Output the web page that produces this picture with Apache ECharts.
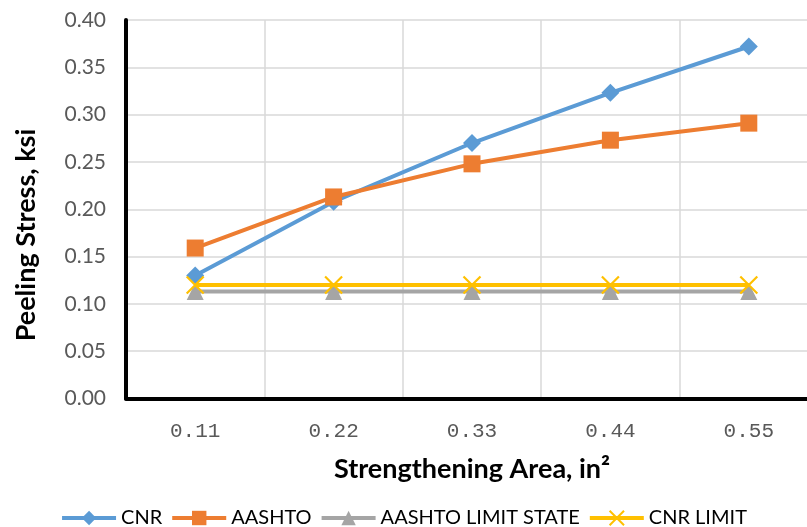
<!DOCTYPE html>
<html>
<head>
<meta charset="utf-8">
<script src="https://cdn.jsdelivr.net/npm/echarts@6/dist/echarts.min.js"></script>
<style>
  html, body { margin: 0; padding: 0; background: #fff; }
  #chart { width: 807px; height: 527px; }
</style>
</head>
<body>
<div id="chart"></div>
<script>
// Strengthening areas (in²) on the horizontal axis
const areas = ['0.11', '0.22', '0.33', '0.44', '0.55'];

// Peeling stress (ksi) for each method
const cnr = [0.130, 0.208, 0.270, 0.323, 0.372];
const aashto = [0.159, 0.213, 0.248, 0.273, 0.291];
const aashtoLimitState = [0.113, 0.113, 0.113, 0.113, 0.113];
const cnrLimit = [0.120, 0.120, 0.120, 0.120, 0.120];

const seriesNames = ['CNR', 'AASHTO', 'AASHTO LIMIT STATE', 'CNR LIMIT'];
const seriesColors = ['#5B9BD5', '#ED7D31', '#A5A5A5', '#FFC000'];

const crossSymbol = 'path://M0,0L20,20M20,0L0,20';

const chart = echarts.init(document.getElementById('chart'));

function lineSeries(name, data, color, symbol, size, extra) {
  return Object.assign({
    name: name,
    type: 'line',
    data: data,
    symbol: symbol,
    symbolSize: size,
    showAllSymbol: true,
    lineStyle: { color: color, width: 4 },
    itemStyle: { color: color, opacity: 1 },
    emphasis: { disabled: true },
    animation: false
  }, extra || {});
}

chart.setOption({
  backgroundColor: '#ffffff',
  animation: false,
  // the last category band runs past the right edge of the canvas
  grid: {
    left: 126, width: 692, top: 20, bottom: 128.5,
    containLabel: false, outerBoundsMode: 'none'
  },
  legend: {
    data: seriesNames,
    left: 'center',
    top: 503,
    itemWidth: 54,
    itemHeight: 18,
    itemGap: 8,
    lineStyle: { width: 4 },
    textStyle: { fontFamily: 'Lato', fontSize: 20, color: '#000000' }
  },
  xAxis: {
    type: 'category',
    data: areas,
    boundaryGap: true,
    name: 'Strengthening Area, in²',
    nameLocation: 'middle',
    nameGap: 57,
    nameTextStyle: { fontFamily: 'Lato', fontWeight: 'bold', fontSize: 27, color: '#000000' },
    axisLine: { lineStyle: { color: '#000000', width: 4 } },
    axisTick: { show: false },
    axisLabel: { fontFamily: 'Liberation Mono', fontSize: 21, color: '#595959', margin: 22 },
    splitLine: { show: true, lineStyle: { color: '#D9D9D9', width: 1.5 } }
  },
  yAxis: {
    type: 'value',
    min: 0,
    max: 0.4,
    interval: 0.05,
    axisLine: { show: true, lineStyle: { color: '#000000', width: 4 } },
    axisTick: { show: false },
    axisLabel: {
      fontFamily: 'Lato', fontSize: 21, color: '#595959', margin: 20,
      formatter: v => v.toFixed(2)
    },
    splitLine: { show: true, lineStyle: { color: '#D9D9D9', width: 1.5 } }
  },
  graphic: [{
    type: 'text',
    x: 26,
    y: 235,
    rotation: Math.PI / 2,
    style: {
      text: 'Peeling Stress, ksi',
      fontFamily: 'Lato',
      fontWeight: 'bold',
      fontSize: 27,
      fill: '#000000',
      align: 'center',
      verticalAlign: 'middle'
    }
  }],
  series: [
    lineSeries(seriesNames[0], cnr, seriesColors[0], 'diamond', 18),
    lineSeries(seriesNames[1], aashto, seriesColors[1], 'rect', 17),
    lineSeries(seriesNames[2], aashtoLimitState, seriesColors[2], 'triangle', 17),
    lineSeries(seriesNames[3], cnrLimit, seriesColors[3], crossSymbol, 17, {
      itemStyle: { color: 'none', borderColor: seriesColors[3], borderWidth: 2.2, opacity: 1 }
    })
  ]
});
</script>
</body>
</html>
